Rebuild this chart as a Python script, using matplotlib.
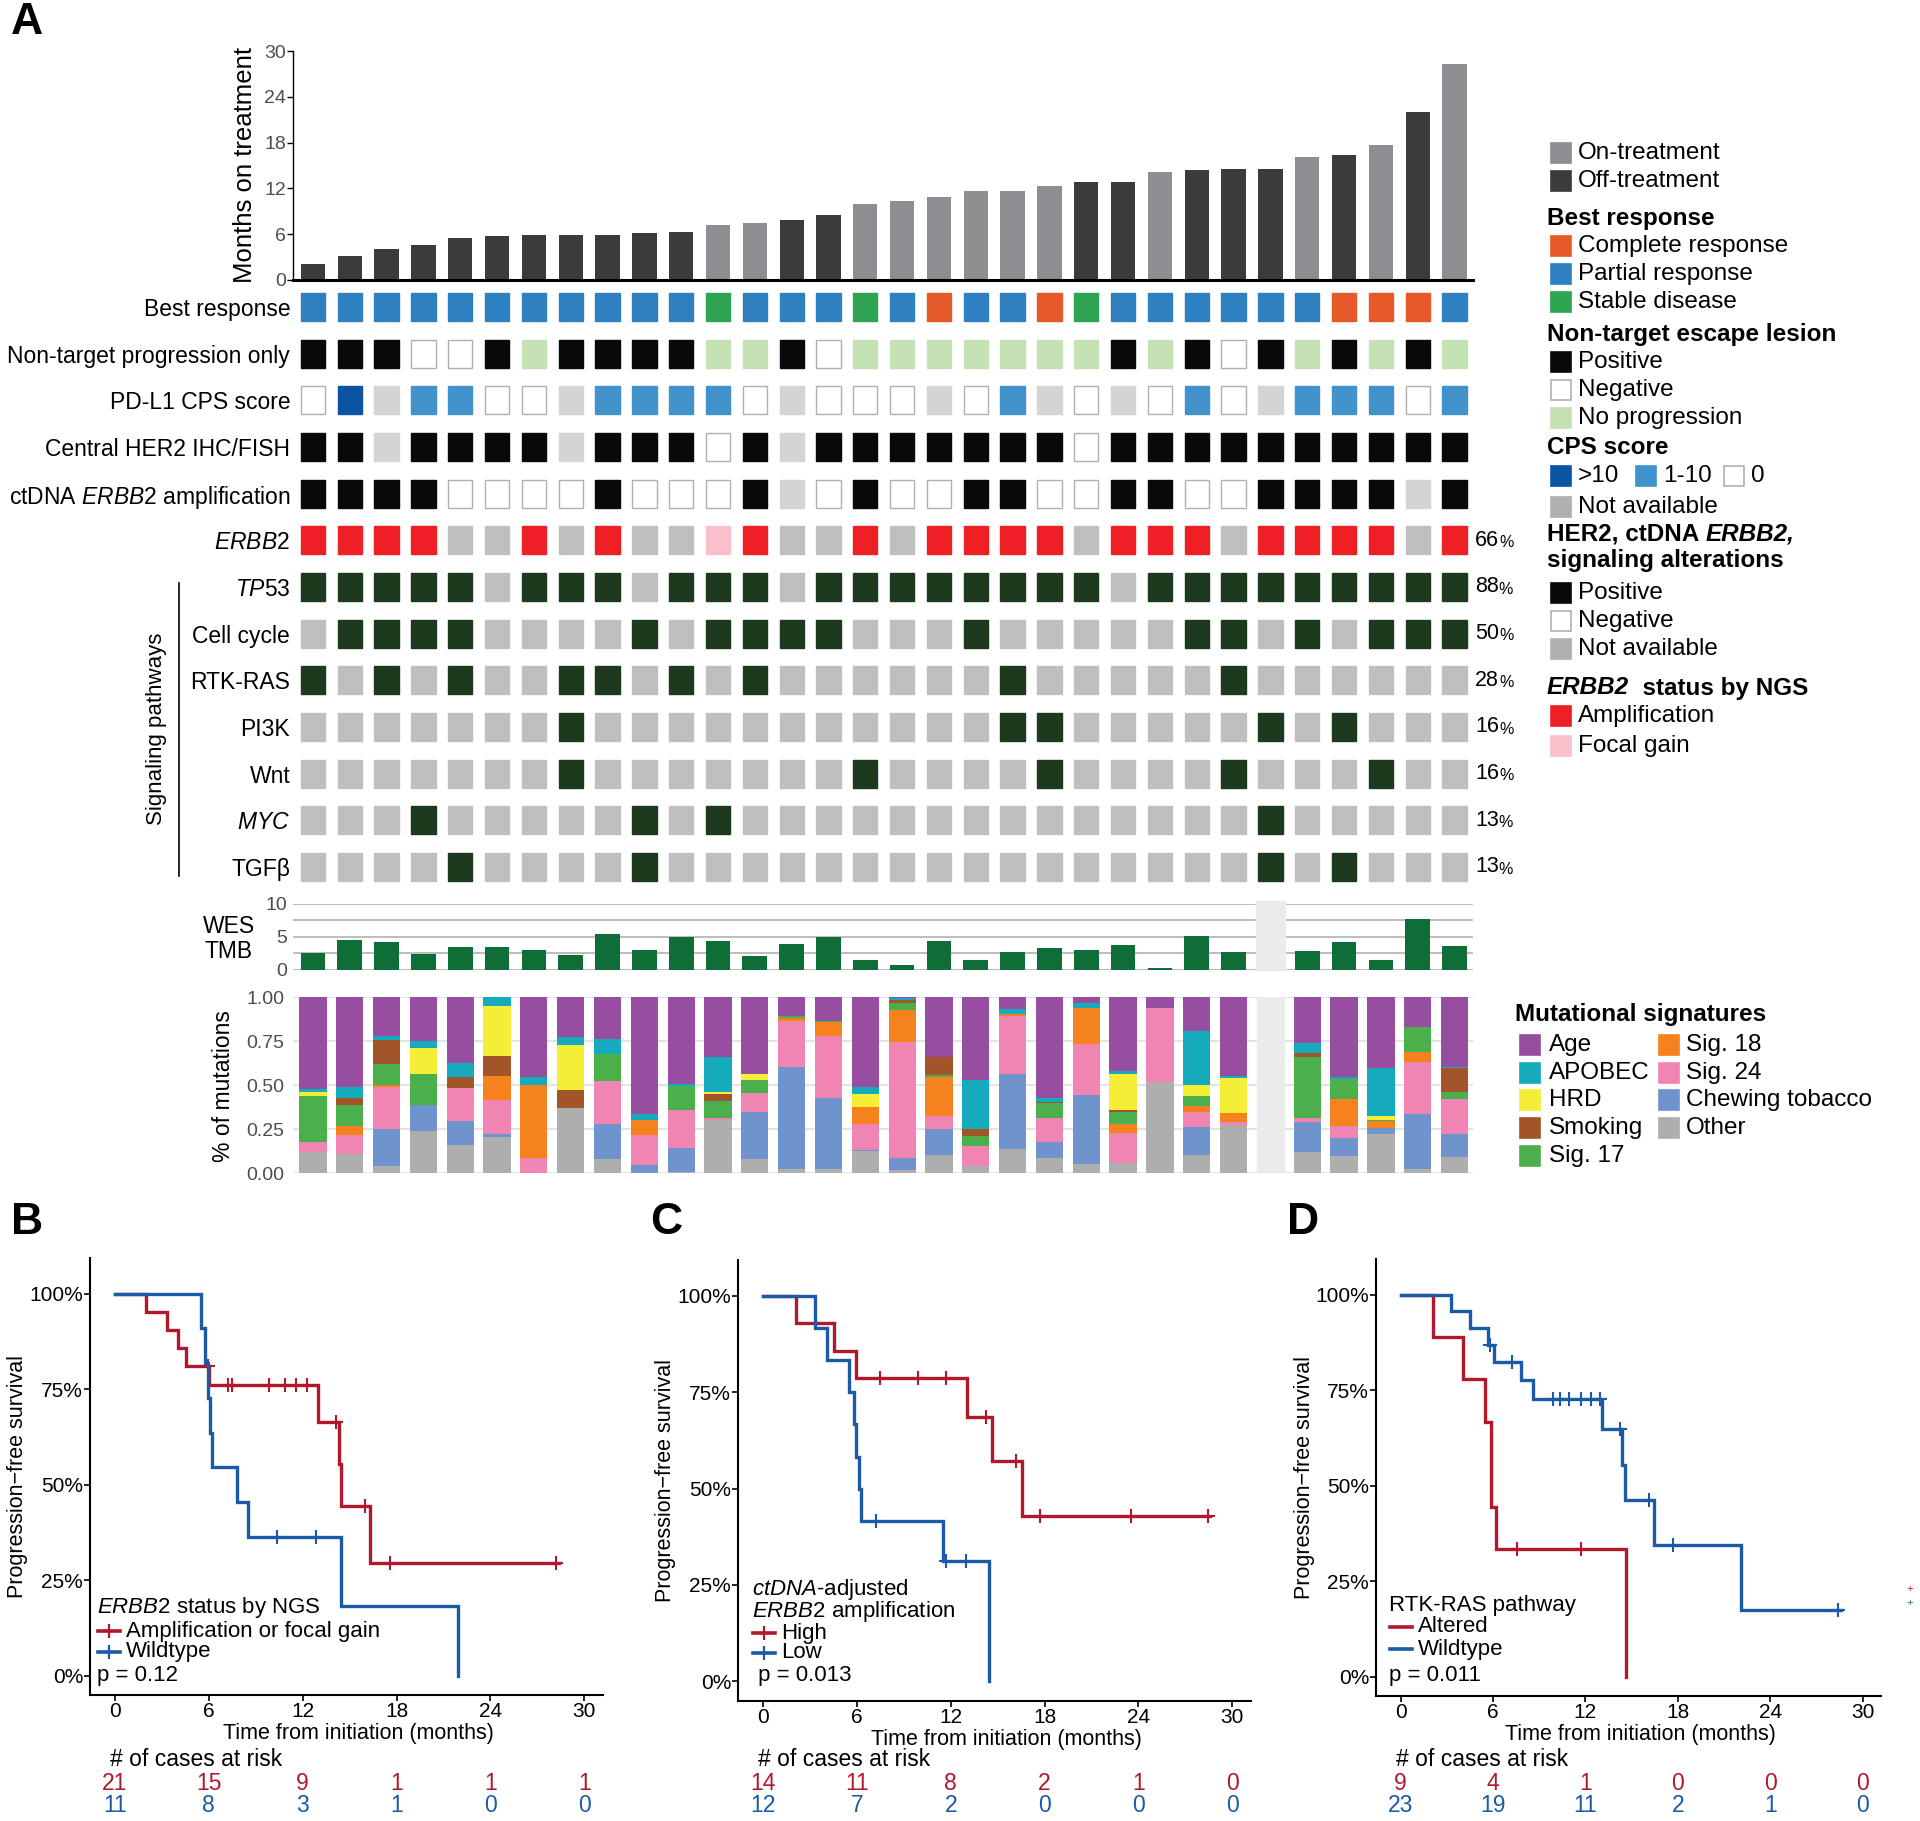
import numpy as np
import matplotlib
matplotlib.use('Agg')
import matplotlib.pyplot as plt
from matplotlib.patches import Rectangle

plt.rcParams['font.family'] = ['Liberation Sans', 'DejaVu Sans']
plt.rcParams['mathtext.fontset'] = 'custom'
plt.rcParams['mathtext.rm'] = 'Liberation Sans'
plt.rcParams['mathtext.it'] = 'Liberation Sans:italic'
plt.rcParams['mathtext.bf'] = 'Liberation Sans:bold'

W, H = 1920, 1821

# ---------------- panel A data (32 patients, sorted by time on treatment) ----------------
months = [2.1, 3.2, 4.0, 4.6, 5.5, 5.8, 5.85, 5.9, 5.9, 6.1, 6.3, 7.2, 7.5, 7.8, 8.5, 9.9,
          10.3, 10.9, 11.7, 11.7, 12.3, 12.9, 12.9, 14.1, 14.4, 14.5, 14.5, 16.1, 16.4, 17.7, 22.0, 28.3]
status = ['Off', 'Off', 'Off', 'Off', 'Off', 'Off', 'Off', 'Off', 'Off', 'Off', 'Off', 'On',
          'On', 'Off', 'Off', 'On', 'On', 'On', 'On', 'On', 'On', 'Off', 'Off', 'On',
          'Off', 'Off', 'Off', 'On', 'Off', 'On', 'Off', 'On']

best_response = ['PR', 'PR', 'PR', 'PR', 'PR', 'PR', 'PR', 'PR', 'PR', 'PR', 'PR', 'SD',
                 'PR', 'PR', 'PR', 'SD', 'PR', 'CR', 'PR', 'PR', 'CR', 'SD', 'PR', 'PR',
                 'PR', 'PR', 'PR', 'PR', 'CR', 'CR', 'CR', 'PR']
nontarget = ['Pos', 'Pos', 'Pos', 'Neg', 'Neg', 'Pos', 'NoProg', 'Pos', 'Pos', 'Pos', 'Pos', 'NoProg',
             'NoProg', 'Pos', 'Neg', 'NoProg', 'NoProg', 'NoProg', 'NoProg', 'NoProg', 'NoProg', 'NoProg', 'Pos', 'NoProg',
             'Pos', 'Neg', 'Pos', 'NoProg', 'Pos', 'NoProg', 'Pos', 'NoProg']
cps = ['0', '>10', 'NA', '1-10', '1-10', '0', '0', 'NA', '1-10', '1-10', '1-10', '1-10',
       '0', 'NA', '0', '0', '0', 'NA', '0', '1-10', 'NA', '0', 'NA', '0',
       '1-10', '0', 'NA', '1-10', '1-10', '1-10', '0', '1-10']
her2_ihc = ['Pos', 'Pos', 'NA', 'Pos', 'Pos', 'Pos', 'Pos', 'NA', 'Pos', 'Pos', 'Pos', 'Neg',
            'Pos', 'NA', 'Pos', 'Pos', 'Pos', 'Pos', 'Pos', 'Pos', 'Pos', 'Neg', 'Pos', 'Pos',
            'Pos', 'Pos', 'Pos', 'Pos', 'Pos', 'Pos', 'Pos', 'Pos']
ctdna_amp = ['Pos', 'Pos', 'Pos', 'Pos', 'Neg', 'Neg', 'Neg', 'Neg', 'Pos', 'Neg', 'Neg', 'Neg',
             'Pos', 'NA', 'Neg', 'Pos', 'Neg', 'Neg', 'Pos', 'Pos', 'Neg', 'Neg', 'Pos', 'Pos',
             'Neg', 'Neg', 'Pos', 'Pos', 'Pos', 'Pos', 'NA', 'Pos']
erbb2_ngs = ['Amp', 'Amp', 'Amp', 'Amp', 'WT', 'WT', 'Amp', 'WT', 'Amp', 'WT', 'WT', 'Focal',
             'Amp', 'WT', 'WT', 'Amp', 'WT', 'Amp', 'Amp', 'Amp', 'Amp', 'WT', 'Amp', 'Amp',
             'Amp', 'WT', 'Amp', 'Amp', 'Amp', 'Amp', 'WT', 'Amp']
tp53 = [1, 1, 1, 1, 1, 0, 1, 1, 1, 0, 1, 1, 1, 0, 1, 1, 1, 1, 1, 1, 1, 1, 0, 1, 1, 1, 1, 1, 1, 1, 1, 1]
cell_cycle = [0, 1, 1, 1, 1, 0, 0, 0, 0, 1, 0, 1, 1, 1, 1, 0, 0, 0, 1, 0, 0, 0, 0, 0, 1, 1, 0, 1, 0, 1, 1, 1]
rtk_ras = [1, 0, 1, 0, 1, 0, 0, 1, 1, 0, 1, 0, 1, 0, 0, 0, 0, 0, 0, 1, 0, 0, 0, 0, 0, 1, 0, 0, 0, 0, 0, 0]
pi3k = [0, 0, 0, 0, 0, 0, 0, 1, 0, 0, 0, 0, 0, 0, 0, 0, 0, 0, 0, 1, 1, 0, 0, 0, 0, 0, 1, 0, 1, 0, 0, 0]
wnt = [0, 0, 0, 0, 0, 0, 0, 1, 0, 0, 0, 0, 0, 0, 0, 1, 0, 0, 0, 0, 1, 0, 0, 0, 0, 1, 0, 0, 0, 1, 0, 0]
myc = [0, 0, 0, 1, 0, 0, 0, 0, 0, 1, 0, 1, 0, 0, 0, 0, 0, 0, 0, 0, 0, 0, 0, 0, 0, 0, 1, 0, 0, 0, 0, 0]
tgfb = [0, 0, 0, 0, 1, 0, 0, 0, 0, 1, 0, 0, 0, 0, 0, 0, 0, 0, 0, 0, 0, 0, 0, 0, 0, 0, 1, 0, 1, 0, 0, 0]

row_labels = ['Best response', 'Non-target progression only', 'PD-L1 CPS score', 'Central HER2 IHC/FISH',
              r'ctDNA $\it{ERBB2}$ amplification', r'$\it{ERBB2}$', r'$\it{TP53}$', 'Cell cycle',
              'RTK-RAS', 'PI3K', 'Wnt', r'$\it{MYC}$', 'TGFβ']

tmb = [2.5, 4.55, 4.25, 2.35, 3.55, 3.45, 3.1, 2.2, 5.45, 3.0, 4.95, 4.45, 2.1, 3.95, 5.05, 1.55,
       0.8, 4.45, 1.45, 2.8, 3.3, 3.0, 3.75, 0.25, 5.2, 2.7, np.nan, 2.95, 4.3, 1.5, 7.75, 3.65]

# mutational signature fractions (stack order bottom -> top)
sig_other = [.12, .11, .04, .24, .16, .205, 0, .37, .08, 0, .005, .30, .08, .025, .02, .125,
             .015, .103, .039, .135, .088, .049, .054, .517, .101, .275, 0, .12, .099, .219, .024, .09]
sig_chewing = [0, 0, .21, .145, .135, .015, 0, 0, .20, .045, .135, 0, .265, .575, .405, .005,
               .073, .148, 0, .429, .086, .393, 0, 0, .163, 0, 0, .17, .098, .036, .313, .129]
sig_24 = [.055, .105, .24, 0, .19, .195, .085, 0, .245, .17, .22, .013, .11, .265, .355, .15,
          .655, .071, .116, .329, .137, .292, .176, .423, .082, .015, 0, .025, .071, 0, .296, .204]
sig_18 = [0, .05, .01, 0, 0, .135, .415, 0, 0, .085, 0, 0, 0, .015, .08, .095,
          .185, .223, 0, .013, 0, .206, .049, 0, .034, .049, 0, 0, .153, .039, .054, 0]
sig_17 = [.265, .12, .12, .175, 0, 0, 0, 0, .15, 0, .135, .097, .075, .01, .005, 0,
          .04, .013, .057, 0, .086, 0, .069, 0, .06, 0, 0, .342, .115, .006, .141, .038]
sig_smoking = [0, .04, .135, 0, .06, .115, 0, .10, 0, 0, 0, .04, 0, 0, 0, 0,
               .015, .099, .037, 0, .007, 0, .012, 0, 0, 0, 0, .025, 0, 0, 0, .133]
sig_hrd = [.02, 0, 0, .15, 0, .285, 0, .26, 0, 0, 0, .01, .035, 0, 0, .075,
           0, 0, 0, 0, 0, 0, .202, 0, .058, .20, 0, 0, 0, .024, 0, 0]
sig_apobec = [.02, .065, .025, .04, .08, .05, .045, .04, .085, .035, .01, .20, 0, 0, 0, .04,
              .012, 0, .279, .023, .023, .026, .018, 0, .309, .013, 0, .058, .011, .273, 0, .009]
sig_age = [.52, .51, .22, .25, .375, 0, .455, .23, .24, .665, .495, .34, .435, .11, .135, .51,
           .005, .343, .472, .071, .573, .034, .42, .06, .193, .448, 0, .26, .453, .403, .172, .397]
wes_missing = [27]  # patient without WES

# ---------------- KM data ----------------
km_b = {
    'red': dict(t=[0, 2.0, 3.3, 4.05, 4.55, 6.0, 12.95, 14.3, 14.45, 16.3],
                s=[100, 95.2, 90.5, 85.7, 81.0, 76.1, 66.4, 55.4, 44.3, 29.5], end=28.4,
                cens=[5.95, 7.25, 7.45, 9.85, 10.85, 11.6, 12.25, 14.1, 16.0, 17.6, 28.2]),
    'blue': dict(t=[0, 5.47, 5.78, 5.95, 6.1, 6.23, 7.77, 8.5, 14.46, 21.9],
                 s=[100, 90.9, 81.8, 72.7, 63.6, 54.5, 45.4, 36.3, 18.1, 0], end=21.9,
                 cens=[10.35, 12.85]),
}
km_c = {
    'red': dict(t=[0, 2.08, 4.56, 5.94, 13.07, 14.64, 16.54],
                s=[100, 92.9, 85.7, 78.6, 68.6, 57.2, 42.9], end=28.6,
                cens=[7.5, 9.9, 11.7, 14.24, 16.15, 17.73, 23.54, 28.44]),
    'blue': dict(t=[0, 3.33, 4.09, 5.52, 5.83, 5.96, 6.12, 6.28, 11.48, 14.48],
                 s=[100, 91.7, 83.3, 75.0, 66.7, 58.3, 50.0, 41.7, 31.2, 0], end=14.48,
                 cens=[7.21, 11.72, 12.97]),
}
km_d = {
    'red': dict(t=[0, 2.07, 4.02, 5.45, 5.9, 6.22, 14.64],
                s=[100, 88.9, 77.8, 66.7, 44.4, 33.3, 0], end=14.64,
                cens=[7.55, 11.73]),
    'blue': dict(t=[0, 3.26, 4.5, 5.7, 6.04, 7.81, 8.6, 13.1, 14.38, 14.56, 16.44, 22.1],
                 s=[100, 95.7, 91.3, 86.9, 82.4, 77.5, 72.7, 64.7, 55.3, 46.1, 34.5, 17.3], end=28.6,
                 cens=[5.8, 7.23, 9.88, 10.38, 10.93, 11.73, 12.36, 12.97, 14.22, 16.15, 17.69, 28.4]),
}
risk_times = [0, 6, 12, 18, 24, 30]
risk_b = ([21, 15, 9, 1, 1, 1], [11, 8, 3, 1, 0, 0])
risk_c = ([14, 11, 8, 2, 1, 0], [12, 7, 2, 0, 0, 0])
risk_d = ([9, 4, 1, 0, 0, 0], [23, 19, 11, 2, 1, 0])

# ---------------- colours ----------------
C_ON, C_OFF = '#8c8e91', '#3b3b3b'
resp_col = {'CR': '#e55a28', 'PR': '#2e80c0', 'SD': '#2ea352'}
nt_col = {'Pos': '#08090b', 'Neg': 'white', 'NoProg': '#c5e2b5'}
cps_col = {'>10': '#0b54a2', '1-10': '#4293cc', '0': 'white', 'NA': '#d4d4d4'}
bin_col = {'Pos': '#08090b', 'Neg': 'white', 'NA': '#d4d4d4'}
erbb2_col = {'Amp': '#ee2026', 'Focal': '#f9bfcb', 'WT': '#bfbfbf'}
path_col = {1: '#1e3a1e', 0: '#bfbfbf'}
sig_names = ['Other', 'Chewing tobacco', 'Sig. 24', 'Sig. 18', 'Sig. 17', 'Smoking', 'HRD', 'APOBEC', 'Age']
sig_colors = ['#aeaeae', '#6e93cd', '#f085b4', '#f5821f', '#4bb04b', '#a3552a', '#f4ee37', '#15abbd', '#984ea0']
RED, BLUE = '#b2182b', '#1a5aa6'
TICK_GRAY = '#4d4d4d'

fig = plt.figure(figsize=(W / 100, H / 100), dpi=100)
fig.patch.set_facecolor('white')


def add_ax(x0, y0, x1, y1):
    return fig.add_axes([x0 / W, 1 - y1 / H, (x1 - x0) / W, (y1 - y0) / H])


def set_tick_font(ax, size, color='black'):
    for lab in ax.get_xticklabels() + ax.get_yticklabels():
        lab.set_fontsize(size)
        lab.set_color(color)


n = len(months)
xs = np.arange(n)
XL = (-0.54, 31.5)
AX0, AX1 = 293, 1473

# ---- months on treatment ----
ax_bar = add_ax(AX0, 51, AX1, 280)
ax_bar.bar(xs, months, width=0.66, color=[C_ON if s == 'On' else C_OFF for s in status])
ax_bar.set_xlim(*XL)
ax_bar.set_ylim(0, 30)
ax_bar.set_yticks([0, 6, 12, 18, 24, 30])
ax_bar.set_yticklabels(['0', '6', '12', '18', '24', '30'])
ax_bar.set_xticks([])
ax_bar.tick_params(axis='y', length=4, width=1, pad=1)
set_tick_font(ax_bar, 14, TICK_GRAY)
for sp in ['top', 'right']:
    ax_bar.spines[sp].set_visible(False)
ax_bar.spines['bottom'].set_linewidth(2.2)
ax_bar.spines['left'].set_linewidth(1.0)
fig.text(245 / W, 1 - 165 / H, 'Months on treatment', rotation=90, fontsize=18.5,
         ha='center', va='center')

# ---- tile rows ----
rows = [
    [resp_col[v] for v in best_response],
    [nt_col[v] for v in nontarget],
    [cps_col[v] for v in cps],
    [bin_col[v] for v in her2_ihc],
    [bin_col[v] for v in ctdna_amp],
    [erbb2_col[v] for v in erbb2_ngs],
] + [[path_col[v] for v in p] for p in [tp53, cell_cycle, rtk_ras, pi3k, wnt, myc, tgfb]]

ax_hm = add_ax(AX0, 307 - 23.33, AX1, 867 + 23.33)
for r, cols in enumerate(rows):
    edges = ['#b0b0b0' if c == 'white' else c for c in cols]
    ax_hm.bar(xs, 0.6, bottom=r - 0.3, width=0.66, color=cols, edgecolor=edges, linewidth=1)
ax_hm.set_xlim(*XL)
ax_hm.set_ylim(len(rows) - 0.5, -0.5)
ax_hm.set_xticks([])
ax_hm.set_yticks(range(len(rows)))
ax_hm.set_yticklabels(row_labels, fontsize=16.5)
ax_hm.tick_params(axis='y', length=0, pad=2)
for sp in ax_hm.spines.values():
    sp.set_visible(False)

# alteration frequencies
freq_rows = [[1 if v != 'WT' else 0 for v in erbb2_ngs], tp53, cell_cycle, rtk_ras, pi3k, wnt, myc, tgfb]
tr = matplotlib.transforms.blended_transform_factory(ax_hm.transAxes, ax_hm.transData)
for k, fr in enumerate(freq_rows):
    pct = int(np.floor(100 * np.mean(fr) + 0.5))
    t = ax_hm.text(1.0 + 2 / 1180, 5 + k, str(pct), transform=tr, fontsize=15.5, va='center', ha='left')
    ax_hm.annotate('%', xy=(1, 0.04), xycoords=t, fontsize=11.5, va='bottom', ha='left')

ax_hm.plot([-0.0966, -0.0966], [5.91, 12.19], transform=tr, color='black', lw=1.2, clip_on=False)
ax_hm.text(-0.1153, 9.04, 'Signaling pathways', transform=tr, rotation=90, fontsize=16,
           ha='center', va='center')

# ---- TMB ----
ax_tmb = add_ax(AX0, 904, AX1, 970)
for yv in [0, 2.5, 5, 7.5, 10]:
    ax_tmb.axhline(yv, color='#b8b8b8', lw=1.3, zorder=0)
for m in wes_missing:
    span = ax_tmb.axvspan(m - 1 - 0.4, m - 1 + 0.4, ymin=0, ymax=1.05, color='#ebebeb', zorder=1)
    span.set_clip_on(False)
ax_tmb.bar(xs, np.nan_to_num(tmb), width=0.67, color='#0f6e37', zorder=2)
ax_tmb.set_xlim(*XL)
ax_tmb.set_ylim(0, 10)
ax_tmb.set_yticks([0, 5, 10])
ax_tmb.set_yticklabels(['0', '5', '10'])
ax_tmb.set_xticks([])
ax_tmb.tick_params(axis='y', length=0, pad=4)
set_tick_font(ax_tmb, 14, TICK_GRAY)
for sp in ax_tmb.spines.values():
    sp.set_visible(False)
fig.text(229 / W, 1 - 939 / H, 'WES\nTMB', fontsize=16.5, ha='center', va='center', linespacing=1.15)

# ---- mutational signatures ----
ax_sig = add_ax(AX0, 997, AX1, 1173)
for yv in [0, 0.25, 0.5, 0.75, 1.0]:
    ax_sig.axhline(yv, color='#e0e0e0', lw=1.3, zorder=0)
for m in wes_missing:
    ax_sig.axvspan(m - 1 - 0.37, m - 1 + 0.37, color='#ebebeb', zorder=1)
sig_series = [sig_other, sig_chewing, sig_24, sig_18, sig_17, sig_smoking, sig_hrd, sig_apobec, sig_age]
bottom = np.zeros(n)
for vals, col in zip(sig_series, sig_colors):
    vals = np.array(vals, dtype=float)
    ax_sig.bar(xs, vals, bottom=bottom, width=0.74, color=col, zorder=2)
    bottom += vals
ax_sig.set_xlim(*XL)
ax_sig.set_ylim(0, 1)
ax_sig.set_yticks([0, 0.25, 0.5, 0.75, 1.0])
ax_sig.set_yticklabels(['0.00', '0.25', '0.50', '0.75', '1.00'])
ax_sig.set_xticks([])
ax_sig.tick_params(axis='y', length=0, pad=6)
set_tick_font(ax_sig, 14, TICK_GRAY)
for sp in ax_sig.spines.values():
    sp.set_visible(False)
fig.text(224 / W, 1 - 1086 / H, '% of mutations', rotation=90, fontsize=16.5, ha='center', va='center')


# ---------------- KM panels ----------------
def surv_at(c, t, s):
    i = np.searchsorted(t, c, side='right') - 1
    return s[max(i, 0)]


def km_panel(rect, data, risk, colors=(RED, BLUE)):
    ax = add_ax(*rect)
    for key, col in zip(['red', 'blue'], colors):
        d = data[key]
        t = list(d['t']) + [d['end']]
        s = list(d['s']) + [d['s'][-1]]
        ax.step(t, s, where='post', color=col, lw=2.4, solid_joinstyle='miter')
        cy = [surv_at(c, d['t'], d['s']) for c in d['cens']]
        ax.plot(d['cens'], cy, ls='none', marker='+', ms=10, mew=1.5, color=col)
    ax.set_xlim(-1.6, 31.2)
    ax.set_ylim(-5.1, 109.3)
    ax.set_xticks(risk_times)
    ax.set_xticklabels([str(v) for v in risk_times])
    ax.set_yticks([0, 25, 50, 75, 100])
    ax.set_yticklabels(['0%', '25%', '50%', '75%', '100%'])
    ax.tick_params(length=4, width=1.2, pad=1)
    set_tick_font(ax, 15)
    for sp in ['top', 'right']:
        ax.spines[sp].set_visible(False)
    for sp in ['left', 'bottom']:
        ax.spines[sp].set_linewidth(1.5)
    ax.set_xlabel('Time from initiation (months)', fontsize=15.5)
    ax.xaxis.set_label_coords(0.523, -0.063)
    ax.set_ylabel('Progression\u2212free survival', fontsize=15.5)
    ax.yaxis.set_label_coords(-0.12, 0.5)
    trx = matplotlib.transforms.blended_transform_factory(ax.transData, fig.transFigure)
    ax.text(-0.3, 1 - 1760 / H, '# of cases at risk', transform=trx, fontsize=16.5, ha='left', va='center')
    for vals, col, yp in zip(risk, colors, [1784, 1806]):
        for tx, v in zip(risk_times, vals):
            ax.text(tx, 1 - yp / H, str(v), transform=trx, fontsize=16.5, color=col, ha='center', va='center')
    return ax


ax_b = km_panel((90, 1258, 603, 1695), km_b, risk_b)
ax_c = km_panel((738, 1260, 1251, 1701), km_c, risk_c)
ax_d = km_panel((1376, 1259, 1881, 1696), km_d, risk_d)

# ---------------- overlay for legends / labels (pixel coordinates) ----------------
ov = fig.add_axes([0, 0, 1, 1])
ov.set_xlim(0, W)
ov.set_ylim(H, 0)
ov.set_facecolor('none')
ov.axis('off')

for lab, (x, y) in zip('ABCD', [(27, 22), (27, 1222), (666, 1222), (1303, 1222)]):
    ov.text(x, y, lab, fontsize=32, fontweight='bold', ha='center', va='center')


def swatch(x, y, col, size=20):
    ec = '#b0b0b0' if col == 'white' else col
    ov.add_patch(Rectangle((x, y - size / 2), size, size, facecolor=col, edgecolor=ec, lw=1.2))


def leg_item(y, col, label, xs_=1551, xt=1578, fs=17.5):
    swatch(xs_, y, col)
    ov.text(xt, y, label, fontsize=fs, va='center', ha='left')


def leg_title(y, label, x=1547, fs=17.5):
    return ov.text(x, y, label, fontsize=fs, fontweight='bold', va='center', ha='left')


leg_item(153, C_ON, 'On-treatment')
leg_item(181, C_OFF, 'Off-treatment')
leg_title(218, 'Best response')
leg_item(246, resp_col['CR'], 'Complete response')
leg_item(274, resp_col['PR'], 'Partial response')
leg_item(302, resp_col['SD'], 'Stable disease')
leg_title(334, 'Non-target escape lesion')
leg_item(362, '#08090b', 'Positive')
leg_item(390, 'white', 'Negative')
leg_item(418, nt_col['NoProg'], 'No progression')
leg_title(447, 'CPS score')
leg_item(476, cps_col['>10'], '>10')
leg_item(476, cps_col['1-10'], '1-10', xs_=1636, xt=1663)
leg_item(476, 'white', '0', xs_=1724, xt=1751)
leg_item(507, '#b0b0b0', 'Not available')
t1 = leg_title(534, 'HER2, ctDNA ')
ov.annotate('ERBB2,', xy=(1, 0), xycoords=t1, fontsize=17.5, fontweight='bold', fontstyle='italic',
            va='bottom', ha='left')
leg_title(561, 'signaling alterations')
leg_item(593, '#08090b', 'Positive')
leg_item(621, 'white', 'Negative')
leg_item(649, '#b0b0b0', 'Not available')
t2 = ov.text(1547, 688, 'ERBB2', fontsize=17.5, fontweight='bold', fontstyle='italic', va='center', ha='left')
ov.annotate('  status by NGS', xy=(1, 0), xycoords=t2, fontsize=17.5, fontweight='bold',
            va='bottom', ha='left')
leg_item(716, erbb2_col['Amp'], 'Amplification')
leg_item(746, erbb2_col['Focal'], 'Focal gain')

# mutational signature legend
leg_title(1014, 'Mutational signatures', x=1515)
col1 = ['Age', 'APOBEC', 'HRD', 'Smoking', 'Sig. 17']
col2 = ['Sig. 18', 'Sig. 24', 'Chewing tobacco', 'Other']
sig_lookup = dict(zip(sig_names, sig_colors))
for i, nm in enumerate(col1):
    leg_item(1045 + i * 27.7, sig_lookup[nm], nm, xs_=1520, xt=1549)
for i, nm in enumerate(col2):
    leg_item(1045 + i * 27.7, sig_lookup[nm], nm, xs_=1659, xt=1686)


# KM legends
def km_legend(x, y_title, title_lines, items, y_p, ptext, plus=True, xt_off=29):
    for k, tl in enumerate(title_lines):
        ov.text(x, y_title + k * 22, tl, fontsize=16, va='center', ha='left')
    for (yy, col, lab) in items:
        ov.plot([x + 1, x + 23], [yy, yy], color=col, lw=2.6)
        if plus:
            ov.plot([x + 12], [yy], marker='+', ms=10, mew=1.6, color=col)
        ov.text(x + xt_off, yy, lab, fontsize=16, va='center', ha='left')
    ov.text(x, y_p, ptext, fontsize=16, va='center', ha='left')


km_legend(97, 1608, [r'$\it{ERBB2}$ status by NGS'],
          [(1631, RED, 'Amplification or focal gain'), (1652, BLUE, 'Wildtype')], 1675, 'p = 0.12')
km_legend(752, 1589, [r'$\it{ctDNA}$-adjusted', r'$\it{ERBB2}$ amplification'],
          [(1633, RED, 'High'), (1653, BLUE, 'Low')], 1676, ' p = 0.013')
km_legend(1389, 1605, ['RTK-RAS pathway'],
          [(1627, RED, 'Altered'), (1649, BLUE, 'Wildtype')], 1675, 'p = 0.011', plus=False)
ov.text(1910, 1589, '+', fontsize=8, color=RED, ha='center', va='center')
ov.text(1910, 1603, '+', fontsize=8, color=BLUE, ha='center', va='center')

fig.savefig('out.png', dpi=100, facecolor='white')
